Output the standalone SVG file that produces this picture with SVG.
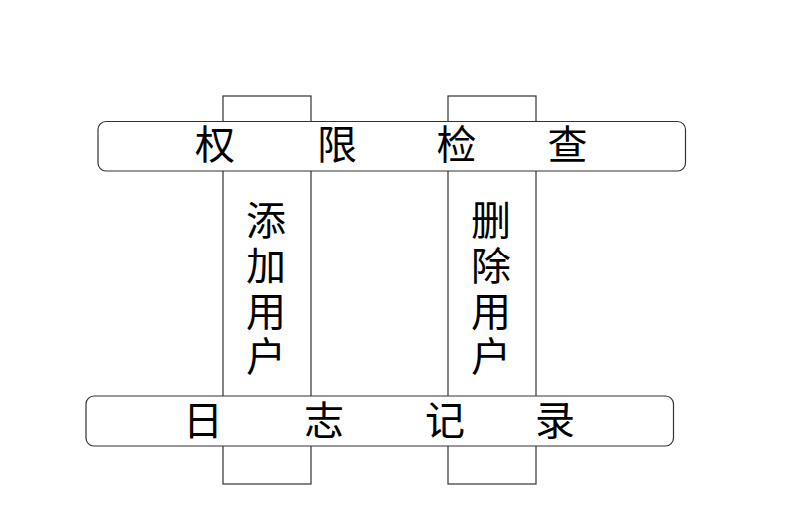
<svg xmlns="http://www.w3.org/2000/svg" width="789" height="520" viewBox="0 0 789 520">
<style>
.box{fill:#fff;stroke:#333;stroke-width:1.2}
.t{font-family:"Noto Sans CJK SC","Noto Sans",sans-serif;font-size:40px;fill:#000;text-anchor:middle}
.v{font-family:"Noto Sans CJK SC","Noto Sans",sans-serif;font-size:40px;fill:#000;writing-mode:vertical-rl;text-orientation:upright;letter-spacing:5.3px}
</style>
<rect width="789" height="520" fill="#fff"/>
<g id="add-user">
<rect class="box" x="223" y="96" width="88" height="388"/>
<text class="v" x="266" y="200">添加用户</text>
</g>
<g id="delete-user">
<rect class="box" x="448" y="96" width="88" height="388"/>
<text class="v" x="491" y="200">删除用户</text>
</g>
<g id="permission-check">
<rect class="box" x="98" y="121.5" width="587.5" height="49.5" rx="8"/>
<text class="t" x="215" y="159">权</text>
<text class="t" x="337" y="159">限</text>
<text class="t" x="456.5" y="159">检</text>
<text class="t" x="567.5" y="159">查</text>
</g>
<g id="logging">
<rect class="box" x="86" y="396" width="587.5" height="50" rx="8"/>
<text class="t" x="203" y="435">日</text>
<text class="t" x="324" y="435">志</text>
<text class="t" x="445" y="435">记</text>
<text class="t" x="555" y="435">录</text>
</g>
<g id="connectors"></g>
</svg>
